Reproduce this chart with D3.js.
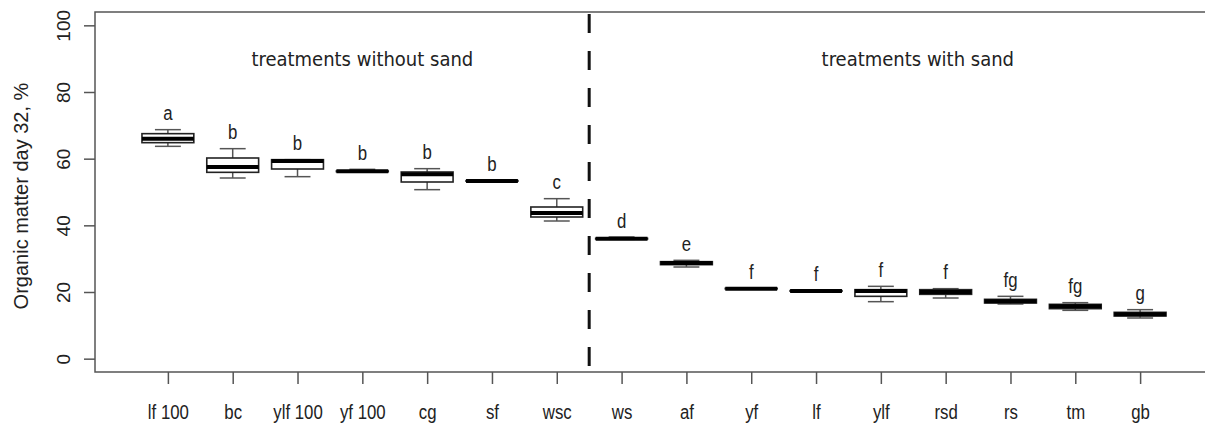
<!DOCTYPE html>
<html>
<head>
<meta charset="utf-8">
<script src="https://cdn.jsdelivr.net/npm/d3@7"></script>
<style>
  body { margin: 0; background: #fff; }
  text { fill: #222; }
</style>
</head>
<body>
<div id="viz"></div>
<script>
  // data

  const groups  = ["lf 100", "bc", "ylf 100", "yf 100", "cg", "sf", "wsc", "ws", "af", "yf", "lf", "ylf", "rsd", "rs", "tm", "gb"];
  const mins    = [63.7, 54.2, 54.6, 56.0, 50.7, 53.2, 41.3, 35.8, 27.5, 20.9, 20.2, 17.1, 18.2, 16.4, 14.5, 12.2];
  const q1s     = [64.8, 55.9, 56.9, 56.1, 53.0, 53.3, 42.5, 35.9, 28.2, 21.0, 20.3, 18.7, 19.3, 16.7, 15.0, 12.8];
  const medians = [66.0, 57.5, 59.3, 56.2, 55.3, 53.3, 43.7, 36.0, 28.7, 21.0, 20.3, 20.3, 20.0, 17.2, 15.7, 13.3];
  const q3s     = [67.5, 60.2, 59.7, 56.3, 56.0, 53.4, 45.5, 36.1, 29.1, 21.1, 20.4, 20.7, 20.7, 17.8, 16.3, 13.9];
  const maxs    = [68.7, 63.0, 59.7, 56.8, 57.0, 53.5, 48.0, 36.5, 29.5, 21.2, 20.5, 21.7, 21.0, 18.7, 16.8, 14.7];
  const letters = ["a", "b", "b", "b", "b", "b", "c", "d", "e", "f", "f", "f", "f", "fg", "fg", "g"];
  const yTicks  = [0, 20, 40, 60, 80, 100];
  const sections = [
    { label: "treatments without sand", at: 4 },
    { label: "treatments with sand", at: 12.57 }
  ];
  const divider = 7.5;

  const data = groups.map((g, i) => ({
    group: g, pos: i + 1,
    min: mins[i], q1: q1s[i], median: medians[i], q3: q3s[i], max: maxs[i],
    letter: letters[i]
  }));

  // dimensions

  const dms = { width: 1205, height: 424, left: 95, top: 12, right: 1214, bottom: 372 };
  const narrow = 0.8; // the labels in the picture are squeezed sideways

  const svg = d3.select("#viz").append("svg")
      .attr("width", dms.width)
      .attr("height", dms.height);

  // scales (R style: 4% padding around 0.5..16.5 and 0..100)

  const x = d3.scaleLinear().domain([-0.14, 17.14]).range([94, 1214]);
  const y = d3.scaleLinear().domain([-4, 104]).range([dms.bottom, dms.top]);
  const step = x(2) - x(1);
  const boxW = step * 0.8;
  const capW = boxW * 0.5;

  // axes

  const yAxis = svg.append("g")
      .attr("transform", `translate(${dms.left},0)`)
      .call(d3.axisLeft(y).tickValues(yTicks).tickSize(11).tickPadding(0));
  yAxis.select(".domain").remove();
  yAxis.selectAll("line").attr("stroke", "#555").attr("stroke-width", 1.5);
  yAxis.selectAll("text")
      .attr("x", null).attr("dy", null)
      .attr("transform", "translate(-25,0) rotate(-90)")
      .attr("text-anchor", "middle")
      .style("font-family", "'Liberation Sans', Arial, sans-serif")
      .style("font-size", "19px")
      .attr("fill", "#222");

  const xAxis = svg.append("g")
      .attr("transform", `translate(0,${dms.bottom})`)
      .call(d3.axisBottom(x).tickValues(data.map(d => d.pos)).tickFormat(i => groups[i - 1]).tickSize(12));
  xAxis.select(".domain").remove();
  xAxis.selectAll("line").attr("stroke", "#555").attr("stroke-width", 1.5);
  xAxis.selectAll("text")
      .attr("y", null).attr("dy", null)
      .attr("transform", `translate(0,47) scale(${narrow},1)`)
      .style("font-family", "'Liberation Sans', Arial, sans-serif")
      .style("font-size", "21px")
      .attr("fill", "#222");

  svg.append("text")
      .attr("transform", `translate(28,${(dms.top + dms.bottom) / 2 + 4}) rotate(-90)`)
      .attr("text-anchor", "middle")
      .style("font-family", "'Liberation Sans', Arial, sans-serif")
      .style("font-size", "20px")
      .text("Organic matter day 32, %");

  // frame

  svg.append("rect")
      .attr("x", dms.left).attr("y", dms.top)
      .attr("width", dms.right - dms.left).attr("height", dms.bottom - dms.top)
      .attr("fill", "none").attr("stroke", "#555").attr("stroke-width", 1.5);

  // divider

  svg.append("line")
      .attr("x1", x(divider)).attr("x2", x(divider))
      .attr("y1", dms.top).attr("y2", dms.bottom)
      .attr("stroke", "#111").attr("stroke-width", 3)
      .attr("stroke-dasharray", "19,18")
      .attr("stroke-dashoffset", -2);

  // section labels

  svg.selectAll(".section")
      .data(sections)
      .enter().append("text")
        .attr("class", "section")
        .attr("x", d => x(d.at))
        .attr("y", 66)
        .attr("text-anchor", "middle")
        .style("font-family", "'DejaVu Sans Condensed', 'DejaVu Sans', sans-serif")
        .style("font-size", "20px")
        .text(d => d.label);

  // boxes

  const boxes = svg.selectAll(".box")
      .data(data)
      .enter().append("g")
        .attr("class", "box");

  boxes.append("line")
      .attr("x1", d => x(d.pos)).attr("x2", d => x(d.pos))
      .attr("y1", d => y(d.max)).attr("y2", d => y(d.q3))
      .attr("stroke", "#555").attr("stroke-width", 1.5);
  boxes.append("line")
      .attr("x1", d => x(d.pos)).attr("x2", d => x(d.pos))
      .attr("y1", d => y(d.q1)).attr("y2", d => y(d.min))
      .attr("stroke", "#555").attr("stroke-width", 1.5);
  boxes.append("line")
      .attr("x1", d => x(d.pos) - capW / 2).attr("x2", d => x(d.pos) + capW / 2)
      .attr("y1", d => y(d.max)).attr("y2", d => y(d.max))
      .attr("stroke", "#555").attr("stroke-width", 1.5);
  boxes.append("line")
      .attr("x1", d => x(d.pos) - capW / 2).attr("x2", d => x(d.pos) + capW / 2)
      .attr("y1", d => y(d.min)).attr("y2", d => y(d.min))
      .attr("stroke", "#555").attr("stroke-width", 1.5);

  boxes.append("rect")
      .attr("x", d => x(d.pos) - boxW / 2)
      .attr("width", boxW)
      .attr("y", d => y(d.q3))
      .attr("height", d => Math.max(0.5, y(d.q1) - y(d.q3)))
      .attr("fill", "#fff")
      .attr("stroke", "#222").attr("stroke-width", 1.6);

  boxes.append("line")
      .attr("x1", d => x(d.pos) - boxW / 2).attr("x2", d => x(d.pos) + boxW / 2)
      .attr("y1", d => y(d.median)).attr("y2", d => y(d.median))
      .attr("stroke", "#000").attr("stroke-width", 4);

  boxes.append("text")
      .attr("transform", d => `translate(${x(d.pos)},${y(d.max + 5)}) scale(${narrow},1)`)
      .attr("dy", "0.35em")
      .attr("text-anchor", "middle")
      .style("font-family", "'Liberation Sans', Arial, sans-serif")
      .style("font-size", "21px")
      .text(d => d.letter);
</script>
</body>
</html>
